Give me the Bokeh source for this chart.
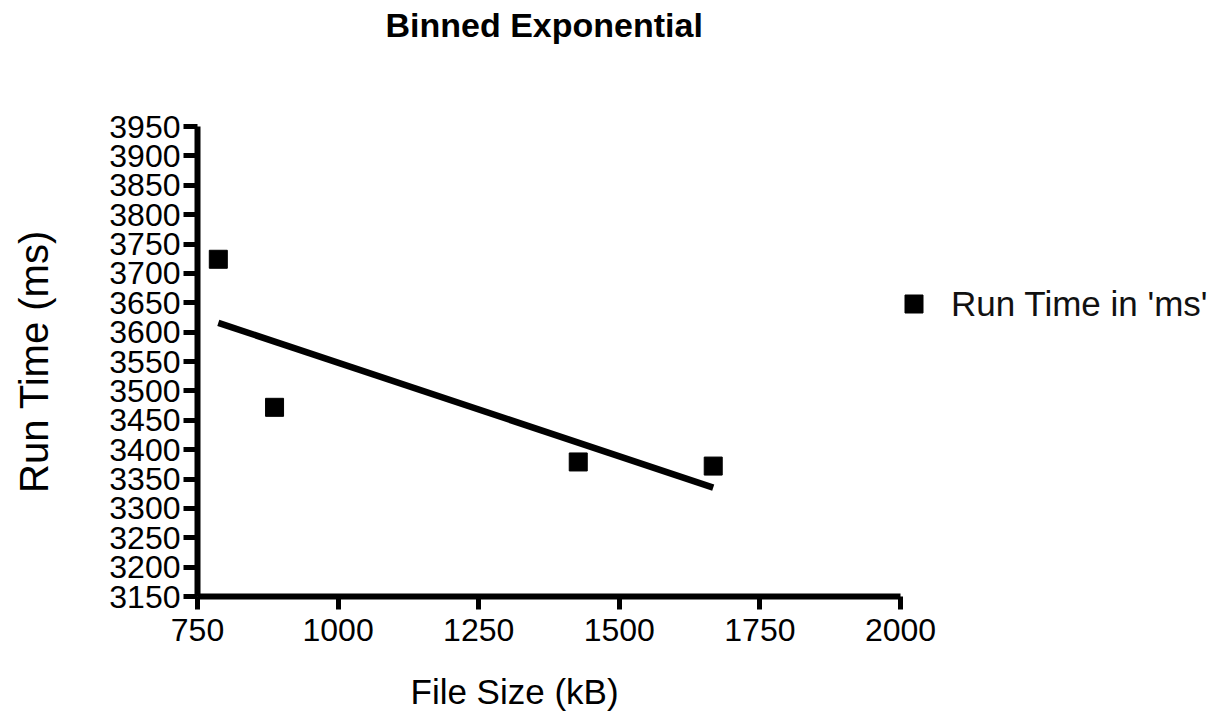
import numpy as np
from bokeh.plotting import figure
from bokeh.models import Range1d, Legend, LegendItem, Title, FixedTicker, ColumnDataSource
from bokeh.embed import file_html
from bokeh.resources import INLINE

# Binned run times against file size
file_size_kb = [787, 887, 1427, 1667]
run_time_ms = [3724, 3472, 3379, 3372]

x_ticks = [750, 1000, 1250, 1500, 1750, 2000]
y_ticks = [3150, 3200, 3250, 3300, 3350, 3400, 3450, 3500, 3550,
           3600, 3650, 3700, 3750, 3800, 3850, 3900, 3950]

FONT = "Liberation Sans"

# least-squares straight line through the binned points
slope, intercept = np.polyfit(file_size_kb, run_time_ms, 1)
fit_x = [min(file_size_kb), max(file_size_kb)]
fit_y = [slope * v + intercept for v in fit_x]

p = figure(
    frame_width=703, frame_height=470,
    min_border_left=197, min_border_right=320,
    min_border_top=125, min_border_bottom=122,
    x_range=Range1d(750, 2000), y_range=Range1d(3150, 3950),
    output_backend="svg", toolbar_location=None, title_location=None,
    background_fill_color="white", border_fill_color="white",
)
p.outline_line_color = None
p.grid.visible = False


def blank_row(standoff, size="8px"):
    # empty title used only as vertical spacing between panels
    return Title(text=" ", standoff=standoff, text_font_size=size)


# title: spacer next to the frame, then the heading above it
p.add_layout(blank_row(67, "10px"), "above")
p.add_layout(Title(text="Binned Exponential", align="left", offset=188, standoff=6,
                   text_font=FONT, text_font_size="34px", text_font_style="bold",
                   text_color="black"), "above")

# axes
for ax in (p.xaxis[0], p.yaxis[0]):
    ax.axis_line_width = 6
    ax.axis_line_color = "black"
    ax.major_tick_line_width = 5
    ax.major_tick_line_color = "black"
    ax.major_tick_in = 0
    ax.minor_tick_line_color = None
    ax.major_label_text_font = FONT
    ax.major_label_text_font_size = "32px"
    ax.major_label_text_color = "black"

p.xaxis.ticker = FixedTicker(ticks=x_ticks)
p.yaxis.ticker = FixedTicker(ticks=y_ticks)
p.xaxis.major_tick_out = 13
p.yaxis.major_tick_out = 14
p.xaxis.major_label_standoff = 9
p.yaxis.major_label_standoff = 3

p.yaxis.axis_label = "Run Time (ms)"
p.yaxis.axis_label_text_font = FONT
p.yaxis.axis_label_text_font_size = "40px"
p.yaxis.axis_label_text_font_style = "normal"
p.yaxis.axis_label_text_color = "black"
p.yaxis.axis_label_standoff = 50

# x-axis label: spacer under the tick labels, then the label text
p.add_layout(blank_row(17), "below")
p.add_layout(Title(text="File Size (kB)", align="left", offset=213, standoff=0,
                   vertical_align="top",
                   text_font=FONT, text_font_size="35px", text_font_style="normal",
                   text_color="black"), "below")

src = ColumnDataSource(dict(x=file_size_kb, y=run_time_ms))
pts = p.scatter("x", "y", source=src, marker="square", size=18,
                fill_color="black", line_color="black")
p.line(fit_x, fit_y, line_width=6.5, line_color="black")

legend = Legend(
    items=[LegendItem(label="Run Time in 'ms'", renderers=[pts])],
    location=(-9, 270),
    margin=0, padding=0,
    glyph_width=45, glyph_height=45,
    label_standoff=15,
    label_text_font=FONT, label_text_font_size="35px", label_text_color="#111111",
    border_line_color=None, background_fill_alpha=0,
)
p.add_layout(legend, "right")

open("out.html", "w").write(file_html(p, INLINE))
